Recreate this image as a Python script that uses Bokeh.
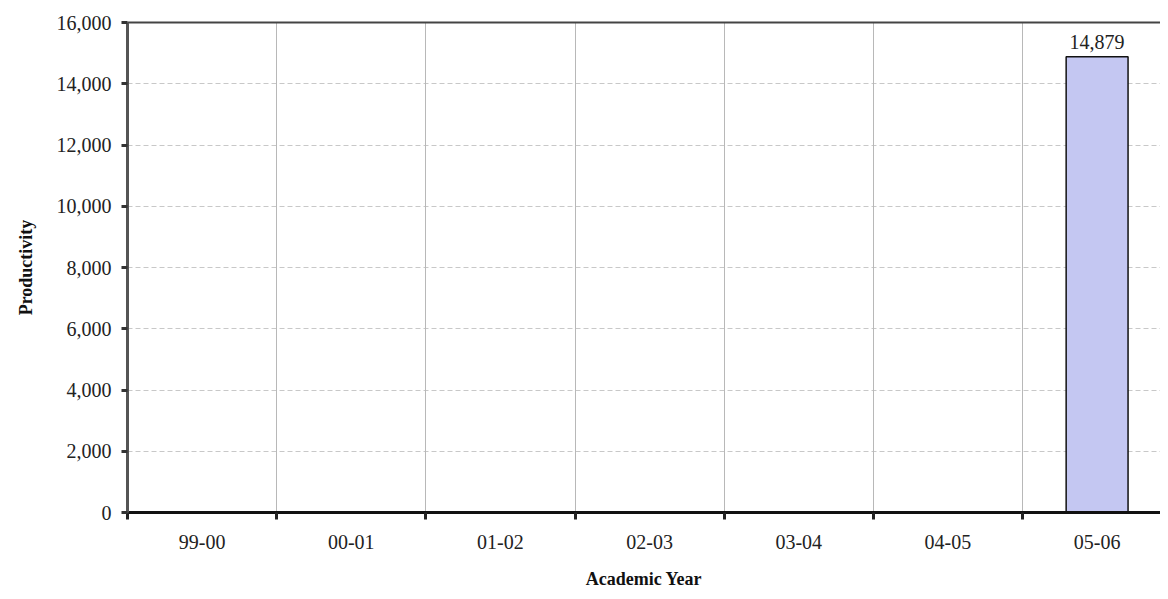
from bokeh.plotting import figure
from bokeh.models import (Range1d, LinearAxis, FixedTicker, Grid, NumeralTickFormatter,
                          ColumnDataSource, LabelSet)
from bokeh.embed import file_html
from bokeh.resources import INLINE

categories = ["99-00", "00-01", "01-02", "02-03", "03-04", "04-05", "05-06"]
productivity = [None, None, None, None, None, None, 14879]
y_ticks = [0, 2000, 4000, 6000, 8000, 10000, 12000, 14000, 16000]

FONT = "Liberation Serif"

centers = [i + 0.5 for i in range(len(categories))]
boundaries = list(range(len(categories) + 1))

bx = [centers[i] for i, v in enumerate(productivity) if v is not None]
by = [v for v in productivity if v is not None]
src = ColumnDataSource(dict(x=bx, top=by, label=[f"{v:,}" for v in by]))

p = figure(width=1160, height=591, x_range=Range1d(0, 6.925), y_range=Range1d(0, 16000),
           x_axis_type=None, y_axis_type=None, output_backend="svg", toolbar_location=None,
           min_border_left=127, min_border_top=22, min_border_right=0, min_border_bottom=79)
p.outline_line_color = None
p.background_fill_color = "white"

# grids
p.add_layout(Grid(dimension=1, ticker=FixedTicker(ticks=y_ticks), grid_line_color="#c8c8c8",
                  grid_line_dash="5 3", grid_line_width=1))
p.add_layout(Grid(dimension=0, ticker=FixedTicker(ticks=boundaries), grid_line_color="#b8b8b8",
                  grid_line_width=1))

p.vbar(x="x", top="top", width=0.415, source=src, fill_color="#c4c7f2",
       line_color="#111111", line_width=1.5)
p.add_layout(LabelSet(x="x", y="top", text="label", source=src, y_offset=8,
                      text_align="center", text_baseline="bottom",
                      text_font=FONT, text_font_size="20px", text_color="#222222"))

# y axis
ya = LinearAxis(ticker=FixedTicker(ticks=y_ticks), formatter=NumeralTickFormatter(format="0,0"),
                axis_label="Productivity")
ya.axis_line_color = "#555555"
ya.axis_line_width = 3
ya.major_tick_line_color = "#333333"
ya.major_tick_line_width = 3
ya.major_tick_out = 6
ya.major_tick_in = 0
ya.minor_tick_line_color = None
ya.major_label_text_font = FONT
ya.major_label_text_font_size = "20px"
ya.major_label_text_color = "#222222"
ya.major_label_standoff = 10
ya.axis_label_text_font = FONT
ya.axis_label_text_font_style = "bold"
ya.axis_label_text_font_size = "18px"
ya.axis_label_text_color = "#111111"
ya.axis_label_standoff = 18
p.add_layout(ya, "left")

# x axis line with boundary ticks
xa = LinearAxis(ticker=FixedTicker(ticks=boundaries))
xa.axis_line_color = "#111111"
xa.axis_line_width = 3
xa.major_tick_line_color = "#222222"
xa.major_tick_line_width = 3
xa.major_tick_out = 7
xa.major_tick_in = 0
xa.minor_tick_line_color = None
xa.major_label_overrides = {b: "" for b in boundaries}
xa.major_label_text_font_size = "1px"
xa.major_label_standoff = 0
p.add_layout(xa, "below")

# x category labels
xl = LinearAxis(ticker=FixedTicker(ticks=centers), axis_label="Academic Year")
xl.major_label_overrides = {c: cat for c, cat in zip(centers, categories)}
xl.axis_line_color = None
xl.major_tick_line_color = None
xl.minor_tick_line_color = None
xl.major_label_text_font = FONT
xl.major_label_text_font_size = "20px"
xl.major_label_text_color = "#222222"
xl.major_label_standoff = 9
xl.axis_label_text_font = FONT
xl.axis_label_text_font_style = "bold"
xl.axis_label_text_font_size = "18px"
xl.axis_label_text_color = "#111111"
xl.axis_label_standoff = 17
p.add_layout(xl, "below")

# top border
ta = LinearAxis(ticker=FixedTicker(ticks=[]))
ta.axis_line_color = "#444444"
ta.axis_line_width = 2
ta.major_tick_line_color = None
ta.minor_tick_line_color = None
ta.major_label_text_font_size = "0px"
p.add_layout(ta, "above")

open("out.html", "w").write(file_html(p, INLINE))
